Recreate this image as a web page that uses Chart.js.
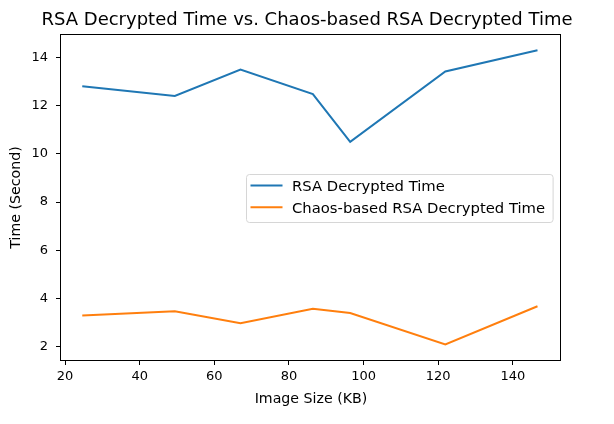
<!DOCTYPE html>
<html>
<head>
<meta charset="utf-8">
<script src="https://cdn.jsdelivr.net/npm/chart.js@4.4.0/dist/chart.umd.min.js"></script>
<style>
  html, body { margin: 0; padding: 0; background: #fff; }
  canvas { display: block; }
</style>
</head>
<body>
<canvas id="timeChart" width="614" height="424"></canvas>
<script>
const imageSizes = [24.6, 49.4, 67.0, 86.4, 96.4, 121.9, 146.6];
const rsaTimes = [12.8, 12.4, 13.5, 12.48, 10.5, 13.42, 14.3];
const chaosTimes = [3.3, 3.47, 2.97, 3.58, 3.4, 2.1, 3.68];
const xTicks = [20, 40, 60, 80, 100, 120, 140];
const yTicks = [2, 4, 6, 8, 10, 12, 14];
const seriesLabels = ['RSA Decrypted Time', 'Chaos-based RSA Decrypted Time'];

const FONT = 'DejaVu Sans';
const tickFont = { family: FONT, size: 13 };
const labelFont = { family: FONT, size: 14.2 };

const toPoints = (ys) => imageSizes.map((x, i) => ({ x, y: ys[i] }));

// full box round the plot (matplotlib spines)
const framePlugin = {
  id: 'frame',
  afterDraw(chart) {
    const { ctx, chartArea: a } = chart;
    ctx.save();
    ctx.strokeStyle = '#000';
    ctx.lineWidth = 1;
    const l = Math.round(a.left) - 0.5;
    const t = Math.round(a.top) - 0.5;
    const r = Math.round(a.right) - 0.5;
    const b = Math.round(a.bottom) + 0.5;
    ctx.strokeRect(l, t, r - l, b - t);
    ctx.restore();
  }
};

// legend drawn inside the plot, center right
const legendPlugin = {
  id: 'insideLegend',
  afterDatasetsDraw(chart) {
    const { ctx, chartArea: a } = chart;
    const size = 14.8;
    ctx.save();
    ctx.font = size + 'px "' + FONT + '"';
    const items = chart.data.datasets.map(ds => ({ text: ds.label, color: ds.borderColor }));
    const textW = Math.max(...items.map(it => ctx.measureText(it.text).width));
    const w = 45.5 + textW + 8;
    const h = 48;
    const x0 = Math.round(a.right - 8 - w) + 0.5;
    const y0 = Math.round((a.top + a.bottom) / 2 - h / 2) + 0.5;
    const rad = 3;

    ctx.beginPath();
    ctx.moveTo(x0 + rad, y0);
    ctx.lineTo(x0 + w - rad, y0);
    ctx.arcTo(x0 + w, y0, x0 + w, y0 + rad, rad);
    ctx.lineTo(x0 + w, y0 + h - rad);
    ctx.arcTo(x0 + w, y0 + h, x0 + w - rad, y0 + h, rad);
    ctx.lineTo(x0 + rad, y0 + h);
    ctx.arcTo(x0, y0 + h, x0, y0 + h - rad, rad);
    ctx.lineTo(x0, y0 + rad);
    ctx.arcTo(x0, y0, x0 + rad, y0, rad);
    ctx.closePath();
    ctx.fillStyle = 'rgba(255,255,255,0.8)';
    ctx.fill();
    ctx.strokeStyle = '#d6d6d6';
    ctx.lineWidth = 1;
    ctx.stroke();

    items.forEach((it, i) => {
      const cy = y0 + 11 + i * 21.7;
      ctx.strokeStyle = it.color;
      ctx.lineWidth = 2;
      ctx.beginPath();
      ctx.moveTo(x0 + 4, cy);
      ctx.lineTo(x0 + 36, cy);
      ctx.stroke();
      ctx.fillStyle = '#000';
      ctx.textBaseline = 'middle';
      ctx.textAlign = 'left';
      ctx.fillText(it.text, x0 + 45.5, cy + 1.5);
    });
    ctx.restore();
  }
};

const axisGrid = {
  drawOnChartArea: false,
  drawTicks: true,
  tickLength: 5,
  tickColor: '#000',
  tickWidth: 1
};

new Chart(document.getElementById('timeChart'), {
  type: 'line',
  data: {
    datasets: [
      {
        label: seriesLabels[0],
        data: toPoints(rsaTimes),
        borderColor: '#1f77b4',
        backgroundColor: '#1f77b4',
        borderWidth: 2,
        pointRadius: 0,
        tension: 0,
        fill: false
      },
      {
        label: seriesLabels[1],
        data: toPoints(chaosTimes),
        borderColor: '#ff7f0e',
        backgroundColor: '#ff7f0e',
        borderWidth: 2,
        pointRadius: 0,
        tension: 0,
        fill: false
      }
    ]
  },
  options: {
    responsive: false,
    animation: false,
    layout: { padding: 0 },
    plugins: {
      legend: { display: false },
      tooltip: { enabled: false },
      title: {
        display: true,
        text: 'RSA Decrypted Time vs. Chaos-based RSA Decrypted Time',
        color: '#000',
        font: { family: FONT, size: 18, weight: 'normal' },
        padding: { top: 9.4, bottom: 4 }
      }
    },
    scales: {
      x: {
        type: 'linear',
        min: 18.9,
        max: 152.9,
        afterBuildTicks: (s) => { s.ticks = xTicks.map(v => ({ value: v })); },
        afterFit: (s) => { s.height = 64; },
        grid: axisGrid,
        border: { display: false },
        ticks: { color: '#000', font: tickFont, padding: 4, maxRotation: 0, autoSkip: false },
        title: {
          display: true,
          text: 'Image Size (KB)',
          color: '#000',
          font: labelFont,
          padding: { top: 0, bottom: 16.5 }
        }
      },
      y: {
        type: 'linear',
        min: 1.45,
        max: 14.93,
        afterBuildTicks: (s) => { s.ticks = yTicks.map(v => ({ value: v })); },
        afterFit: (s) => { s.width = 61; },
        grid: axisGrid,
        border: { display: false },
        ticks: { color: '#000', font: tickFont, padding: 8, autoSkip: false },
        title: {
          display: true,
          text: 'Time (Second)',
          color: '#000',
          font: labelFont,
          padding: { top: 8.3, bottom: 0 }
        }
      },
      // empty right margin so the title stays centred over the whole figure
      spacer: {
        type: 'linear',
        position: 'right',
        afterFit: (s) => { s.width = 53; },
        grid: { display: false },
        border: { display: false },
        ticks: { display: false }
      }
    }
  },
  plugins: [framePlugin, legendPlugin]
});
</script>
</body>
</html>
